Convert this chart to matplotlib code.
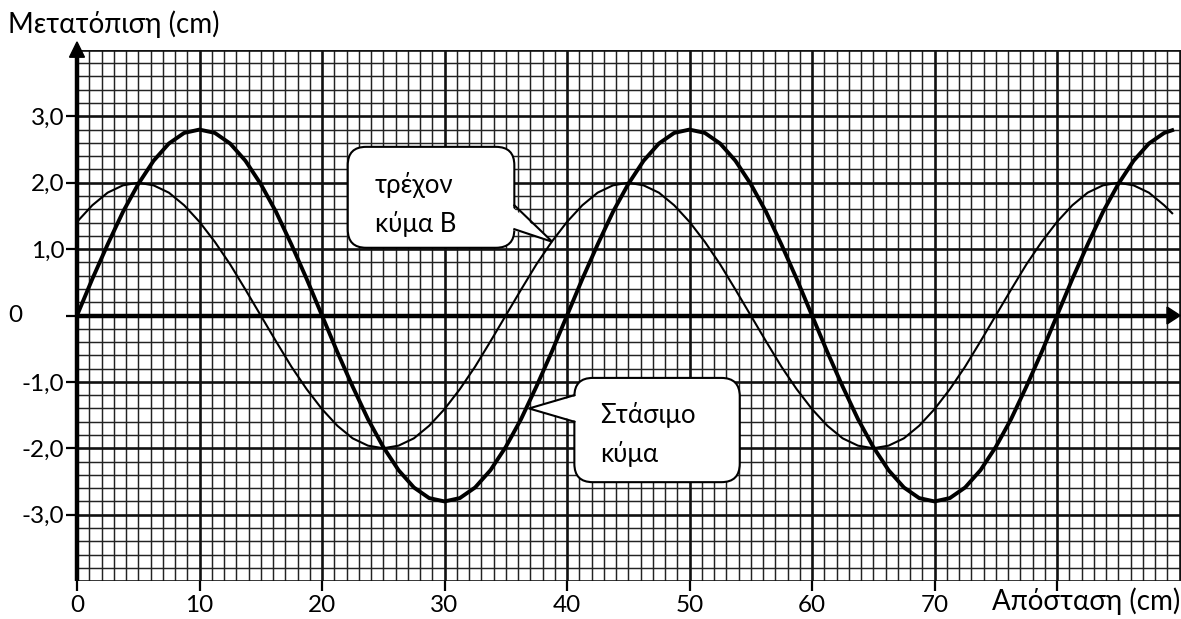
import numpy as np
import matplotlib
matplotlib.use("Agg")
import matplotlib.pyplot as plt
from matplotlib.patches import FancyBboxPatch, Polygon

# ---- data -------------------------------------------------------------
# sample positions along the string (cm)
distance = np.append(np.arange(0, 88.8, 1.25), 89.4)

# standing wave displacement (cm)
standing = [
    0.00, 0.55, 1.07, 1.56, 1.98, 2.33, 2.59, 2.75, 2.80, 2.75, 2.59, 2.33,
    1.98, 1.56, 1.07, 0.55, 0.00, -0.55, -1.07, -1.56, -1.98, -2.33, -2.59,
    -2.75, -2.80, -2.75, -2.59, -2.33, -1.98, -1.56, -1.07, -0.55,
    0.00, 0.55, 1.07, 1.56, 1.98, 2.33, 2.59, 2.75, 2.80, 2.75, 2.59, 2.33,
    1.98, 1.56, 1.07, 0.55, 0.00, -0.55, -1.07, -1.56, -1.98, -2.33, -2.59,
    -2.75, -2.80, -2.75, -2.59, -2.33, -1.98, -1.56, -1.07, -0.55,
    0.00, 0.55, 1.07, 1.56, 1.98, 2.33, 2.59, 2.75, 2.79,
]

# travelling wave B displacement (cm)
travelling = [
    1.41, 1.66, 1.85, 1.96, 2.00, 1.96, 1.85, 1.66, 1.41, 1.11, 0.77, 0.39,
    0.00, -0.39, -0.77, -1.11, -1.41, -1.66, -1.85, -1.96, -2.00, -1.96,
    -1.85, -1.66, -1.41, -1.11, -0.77, -0.39, 0.00, 0.39, 0.77, 1.11,
    1.41, 1.66, 1.85, 1.96, 2.00, 1.96, 1.85, 1.66, 1.41, 1.11, 0.77, 0.39,
    0.00, -0.39, -0.77, -1.11, -1.41, -1.66, -1.85, -1.96, -2.00, -1.96,
    -1.85, -1.66, -1.41, -1.11, -0.77, -0.39, 0.00, 0.39, 0.77, 1.11,
    1.41, 1.66, 1.85, 1.96, 2.00, 1.96, 1.85, 1.66, 1.54,
]

x_ticks = [0, 10, 20, 30, 40, 50, 60, 70, 80]
x_tick_labels = ["0", "10", "20", "30", "40", "50", "60", "70", ""]
y_ticks = [-3, -2, -1, 0, 1, 2, 3]
y_tick_labels = ["-3,0", "-2,0", "-1,0", "", "1,0", "2,0", "3,0"]

y_label = "Μετατόπιση (cm)"
x_label = "Απόσταση (cm)"
travelling_note = ["τρέχον", "κύμα Β"]
standing_note = ["Στάσιμο", "κύμα"]

# ---- figure -----------------------------------------------------------
plt.rcParams["font.family"] = ["Lato", "DejaVu Sans"]

W, H = 1181, 619
fig = plt.figure(figsize=(W / 100, H / 100), dpi=100)
x_max = 90.12
ax = fig.add_axes([77 / W, (H - 581.1) / H, (W - 77) / W, 531.2 / H])
ax.set_xlim(0, x_max)
ax.set_ylim(-4, 4)
for s in ax.spines.values():
    s.set_visible(False)

ink = "#111111"

# graph-paper grid
minor_x = [v for v in np.arange(1, 91) if v % 10 != 0]
major_x = np.arange(10, 91, 10)
minor_y = [v for v in np.round(np.arange(-4, 4.01, 0.2), 1) if abs(v - round(v)) > 1e-6]
major_y = [v for v in range(-4, 5) if v != 0]
ax.vlines(minor_x, -4, 4, color="#222222", lw=1.05, zorder=1)
ax.hlines(minor_y, 0, x_max, color="#222222", lw=1.05, zorder=1)
ax.vlines(major_x, -4, 4, color=ink, lw=1.9, zorder=1.2)
ax.hlines(major_y, 0, x_max, color=ink, lw=1.9, zorder=1.2)

# axes with arrows
ax.plot([0, 89.2], [0, 0], color="black", lw=3.2, solid_capstyle="butt", zorder=2)
ax.plot([0, 0], [-4, 3.92], color="black", lw=3.2, solid_capstyle="butt", zorder=2,
        clip_on=False)
ax.add_patch(Polygon([[88.98, 0.128], [90.05, 0], [88.98, -0.128]], closed=True,
                     color="black", zorder=2, clip_on=False))
ax.add_patch(Polygon([[-0.61, 3.89], [0, 4.12], [0.61, 3.89]], closed=True,
                     color="black", zorder=2, clip_on=False))

# curves
ax.plot(distance, travelling, color="black", lw=1.5, zorder=3)
ax.plot(distance, standing, color="black", lw=2.8, zorder=3.1)

# ticks
ax.set_xticks(x_ticks, x_tick_labels)
ax.set_yticks(y_ticks, y_tick_labels)
ax.tick_params(axis="x", direction="out", length=7, width=1.6, pad=3,
               labelsize=17.5, color="black")
ax.tick_params(axis="y", direction="out", length=8, width=1.6, pad=1,
               labelsize=17.5, color="black")
ax.text(-5.06, 0, "0", fontsize=17.5, ha="center", va="center", clip_on=False)

fig.text(8 / W, 1 - 33 / H, y_label, fontsize=20, ha="left", va="baseline")
fig.text(1180 / W, 1 - 610 / H, x_label, fontsize=20, ha="right", va="baseline")


# speech-bubble callouts
ASPECT = 12.25 / 66.4


def callout(x0, y0, x1, y1, base_a, base_b, tip, lines, tx, ty, dy):
    box = FancyBboxPatch((x0, y0), x1 - x0, y1 - y0,
                         boxstyle="round,pad=0,rounding_size=1.5",
                         mutation_aspect=ASPECT, fc="white", ec="black",
                         lw=1.5, zorder=5)
    ax.add_patch(box)
    # white wedge hides the box outline where the pointer leaves it
    cx = (x0 + x1) / 2
    shift = 0.35 if base_a[0] > cx else -0.35
    ax.add_patch(Polygon([[base_a[0] - shift, base_a[1]], tip,
                          [base_b[0] - shift, base_b[1]]],
                         closed=True, fc="white", ec="none", zorder=5.1))
    ax.plot([base_a[0], tip[0], base_b[0]], [base_a[1], tip[1], base_b[1]],
            color="black", lw=1.5, zorder=5.2, solid_joinstyle="miter")
    for i, t in enumerate(lines):
        ax.text(tx, ty - i * dy, t, fontsize=18.5, ha="left", va="baseline",
                zorder=6)


callout(22.1, 1.02, 35.7, 2.54, (35.7, 1.66), (35.7, 1.30), (38.8, 1.11),
        travelling_note, 24.3, 1.84, 0.585)
callout(40.6, -2.51, 54.1, -0.94, (40.6, -1.20), (40.6, -1.60), (36.9, -1.40),
        standing_note, 42.7, -1.62, 0.585)

fig.savefig("out.png", dpi=100, facecolor="white")
